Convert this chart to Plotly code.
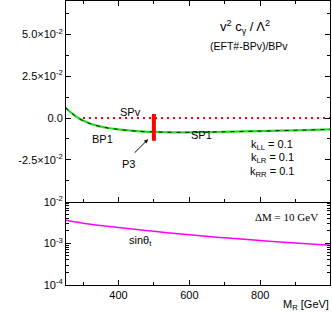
import plotly.graph_objects as go

# ---------------- data ----------------
m_eft = [250, 260, 275, 290, 300, 325, 350, 375, 400, 450, 500, 550, 600, 700, 800, 900, 1000]
eft_ratio = [0.0063, 0.0044, 0.0018, -0.0004, -0.0015, -0.0037, -0.0051, -0.0061, -0.0068,
             -0.0078, -0.0083, -0.0085, -0.0085, -0.0082, -0.0078, -0.0073, -0.0067]
m_spv = [300, 1000]
spv_ratio = [0.0, 0.0]
m_p3 = [500, 500]
p3_range = [0.0024, -0.0135]
m_sin = [250, 300, 400, 500, 600, 700, 800, 900, 1000]
sin_theta = [3.6e-3, 3.05e-3, 2.4e-3, 1.95e-3, 1.6e-3, 1.36e-3, 1.17e-3, 1.02e-3, 0.9e-3]

x_range = [252, 997]
y_up_range = [-0.05, 0.07]
y_up_ticks = [-0.025, 0.0, 0.025, 0.05]
y_up_labels = ["-2.5×10<sup>-2</sup>", "0.0", "2.5×10<sup>-2</sup>", "5.0×10<sup>-2</sup>"]
y_up_minor = [-0.0375, -0.0125, 0.0125, 0.0375, 0.0625]
y_lo_ticks = [1e-4, 1e-3, 1e-2]
y_lo_labels = ["10<sup>-4</sup>", "10<sup>-3</sup>", "10<sup>-2</sup>"]
y_lo_minor = [k * 10 ** e for e in (-4, -3) for k in range(2, 10)]
x_ticks = [400, 600, 800]
x_minor = [300, 500, 700, 900]

W, H = 332, 313
ML, MR, MT, MB = 66, 2, 1, 28
PW, PH = W - ML - MR, H - MT - MB
split = 1 - 200.7 / PH


def px(xpix):
    return (xpix - ML) / PW


def py(ypix):
    return 1 - (ypix - MT) / PH


FONT = "Liberation Sans, Arial, sans-serif"
fig = go.Figure()

# upper panel
fig.add_trace(go.Scatter(x=m_spv, y=spv_ratio, mode="lines", xaxis="x2", yaxis="y2",
                         line=dict(color="#ff0000", width=2, dash="2px,4px"), showlegend=False))
fig.add_trace(go.Scatter(x=m_eft, y=eft_ratio, mode="lines", xaxis="x2", yaxis="y2",
                         line=dict(color="#22dd22", width=2.2, shape="spline"), showlegend=False))
fig.add_trace(go.Scatter(x=m_eft, y=eft_ratio, mode="lines", xaxis="x2", yaxis="y2",
                         line=dict(color="black", width=0.9, dash="4px,5px", shape="spline"),
                         showlegend=False))
fig.add_trace(go.Scatter(x=m_p3, y=p3_range, mode="lines", xaxis="x2", yaxis="y2",
                         line=dict(color="#ff0000", width=4), showlegend=False))

# lower panel
fig.add_trace(go.Scatter(x=m_sin, y=sin_theta, mode="lines", xaxis="x", yaxis="y",
                         line=dict(color="#ff00ff", width=1.5, shape="spline"), showlegend=False))

axis_common = dict(showline=True, linecolor="black", linewidth=1, showgrid=False,
                   zeroline=False, ticks="inside", tickcolor="black", tickwidth=1,
                   ticklen=5, mirror="ticks", automargin=False,
                   tickfont=dict(family=FONT, size=11, color="black"))

fig.update_layout(
    width=W, height=H,
    margin=dict(l=ML, r=MR, t=MT, b=MB, autoexpand=False),
    paper_bgcolor="white", plot_bgcolor="white",
    xaxis=dict(axis_common, range=x_range, anchor="y", tickvals=x_ticks,
               ticktext=[str(v) for v in x_ticks], mirror=False,
               minor=dict(tickvals=x_minor, ticks="inside", ticklen=3, tickcolor="black")),
    xaxis2=dict(axis_common, range=x_range, anchor="y2", tickvals=x_ticks, showticklabels=False,
                minor=dict(tickvals=x_minor, ticks="inside", ticklen=3, tickcolor="black")),
    yaxis=dict(axis_common, type="log", range=[-4, -2], domain=[0, split], anchor="x",
               tickvals=y_lo_ticks, ticktext=y_lo_labels,
               minor=dict(tickvals=y_lo_minor, ticks="inside", ticklen=3, tickcolor="black")),
    yaxis2=dict(axis_common, range=y_up_range, domain=[split, 1], anchor="x2",
                tickvals=y_up_ticks, ticktext=y_up_labels,
                minor=dict(tickvals=y_up_minor, ticks="inside", ticklen=3, tickcolor="black")),
)

ann = []


def label(text, xpix, ypix, size=11, family=FONT):
    ann.append(dict(text=text, x=px(xpix), y=py(ypix), xref="paper", yref="paper",
                    showarrow=False, xanchor="center", yanchor="middle",
                    font=dict(family=family, size=size, color="black")))


label("v<sup>2</sup> c<sub>γ</sub> / Λ<sup>2</sup>", 245, 27, size=13)
label("(EFT#-BPv)/BPv", 249, 46, size=10.5)
label("SPv", 130.5, 112)
label("BP1", 102, 139)
label("P3", 128.5, 164)
label("SP1", 201, 135)
label("k<sub>LL</sub> = 0.1", 272, 145)
label("k<sub>LR</sub> = 0.1", 272, 158)
label("k<sub>RR</sub> = 0.1", 272, 172)
label("ΔM = 10 GeV", 286.5, 217, size=11, family="Liberation Serif, Times New Roman, serif")
label("sinθ<sub>t</sub>", 140, 241)
label("M<sub>R</sub> [GeV]", 305.5, 305)

# arrow pointing at P3
ann.append(dict(x=483.7, y=-0.0127, ax=441.5, ay=-0.0216, xref="x2", yref="y2",
                axref="x2", ayref="y2", text="", showarrow=True, arrowhead=2,
                arrowsize=0.8, arrowwidth=1, arrowcolor="black"))

fig.update_layout(annotations=ann)
fig.write_html("out.html", config={"displayModeBar": False},
               post_script="document.body.style.margin='0';document.body.style.overflow='hidden';")
